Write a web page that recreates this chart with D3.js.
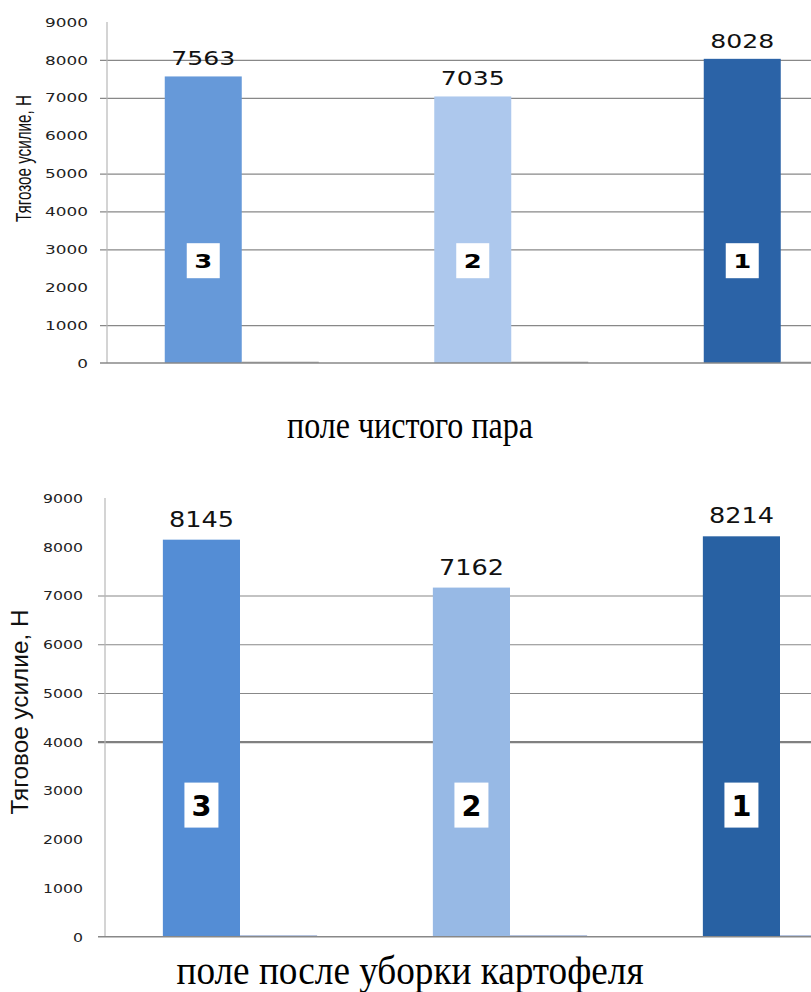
<!DOCTYPE html>
<html><head><meta charset="utf-8">
<script src="https://cdn.jsdelivr.net/npm/d3@7"></script>
<style>body{margin:0;background:#fff} svg{display:block}</style>
</head><body>
<svg id="c" width="811" height="992"></svg>
<script>
// ---- data ----
const categories = ["3", "2", "1"];
const topValues = [7563, 7035, 8028];
const topSecond = [35, 35, 35];
const bottomValues = [8145, 7162, 8214];
const bottomSecond = [27, 27, 27];
const yTicks = [0, 1000, 2000, 3000, 4000, 5000, 6000, 7000, 8000, 9000];
const topGrid = [1000, 3000, 4000, 5000, 7000, 8000];
const bottomGrid = [5000, 6000, 7000];
const bottomStrong = [4000];
const topTitle = "поле чистого пара";
const bottomTitle = "поле после уборки картофеля";
const topYLabel = "Тягозое усилие, Н";
const bottomYLabel = "Тяговое усилие, Н";
const labelLevel = 2700;

const svg = d3.select("#c");
svg.append("rect").attr("width", 811).attr("height", 992).attr("fill", "#fff");

function drawChart(cfg) {
  const g = svg.append("g");
  const x = d3.scaleBand().domain(cfg.categories).range([cfg.x0, cfg.x1])
    .paddingInner(0.4286).paddingOuter(0.2143);
  const xs = d3.scaleBand().domain([0, 1]).range([0, x.bandwidth()]);
  const y = d3.scaleLinear().domain([0, 9000]).range([cfg.yBottom, cfg.yTop]);

  // gridlines (with outer tick marks)
  const grid = d3.axisLeft(y).tickValues(cfg.grid).tickFormat("")
    .tickSizeInner(-(cfg.x1 - cfg.x0)).tickSizeOuter(0);
  const gg = g.append("g").attr("transform", `translate(${cfg.x0},0)`).call(grid);
  gg.select(".domain").remove();
  gg.selectAll(".tick line").attr("x1", -7).attr("stroke", "#888").attr("stroke-width", 1.2);
  if (cfg.strong) {
    const sg = g.append("g").attr("transform", `translate(${cfg.x0},0)`)
      .call(d3.axisLeft(y).tickValues(cfg.strong).tickFormat("").tickSizeInner(-(cfg.x1 - cfg.x0)).tickSizeOuter(0));
    sg.select(".domain").remove();
    sg.selectAll(".tick line").attr("x1", -7).attr("stroke", "#808080").attr("stroke-width", 2.2);
  }

  // tick labels
  const ax = d3.axisLeft(y).tickValues(yTicks).tickFormat(d3.format("d")).tickSize(0).tickPadding(0);
  const ag = g.append("g").attr("transform", `translate(${cfg.tickRight},0)`).call(ax);
  ag.select(".domain").remove();
  ag.selectAll(".tick text")
    .attr("font-family", "DejaVu Sans, Verdana, sans-serif")
    .attr("font-size", cfg.tickFont).attr("fill", "#222")
    .attr("x", 0).attr("dy", "0.36em")
    .attr("textLength", d => cfg.tickLen * String(d).length / 4)
    .attr("lengthAdjust", "spacingAndGlyphs");

  // vertical axis line
  g.append("line").attr("x1", cfg.x0).attr("x2", cfg.x0)
    .attr("y1", y(9000)).attr("y2", y(0)).attr("stroke", "#b8b8b8").attr("stroke-width", 1.2);

  // bars
  const rows = cfg.categories.map((c, i) => ({c, i, v: cfg.values[i], s: cfg.second[i]}));
  g.selectAll(".bar").data(rows).enter().append("rect")
    .attr("x", d => x(d.c) + xs(0)).attr("width", xs.bandwidth())
    .attr("y", d => y(d.v)).attr("height", d => y(0) - y(d.v))
    .attr("fill", d => cfg.colors[d.i]);
  g.selectAll(".bar2").data(rows).enter().append("rect")
    .attr("x", d => x(d.c) + xs(1)).attr("width", xs.bandwidth())
    .attr("y", d => y(d.s)).attr("height", d => y(0) - y(d.s))
    .attr("fill", cfg.secondColor);

  // baseline
  g.append("line").attr("x1", cfg.x0 - 7).attr("x2", 811)
    .attr("y1", y(0)).attr("y2", y(0)).attr("stroke", "#888").attr("stroke-width", 1.4);

  // value labels
  g.selectAll(".vl").data(rows).enter().append("text")
    .attr("x", d => x(d.c) + xs(0) + xs.bandwidth() / 2)
    .attr("y", d => y(d.v) - cfg.valueGap)
    .attr("text-anchor", "middle")
    .attr("font-family", "DejaVu Sans, Verdana, sans-serif")
    .attr("font-size", cfg.valueFont).attr("fill", "#111")
    .attr("textLength", cfg.valueLen).attr("lengthAdjust", "spacingAndGlyphs")
    .text(d => d.v);

  // category labels in white boxes
  const lb = g.selectAll(".lb").data(rows).enter().append("g")
    .attr("transform", d => `translate(${x(d.c) + xs(0) + xs.bandwidth() / 2},${y(labelLevel)})`);
  lb.append("rect").attr("x", -cfg.boxW / 2).attr("y", -cfg.boxH / 2)
    .attr("width", cfg.boxW).attr("height", cfg.boxH).attr("fill", "#fff");
  lb.append("text").attr("text-anchor", "middle").attr("dy", "0.36em")
    .attr("font-family", "DejaVu Sans, Verdana, sans-serif").attr("font-weight", "bold")
    .attr("font-size", cfg.boxFont).attr("fill", "#000")
    .attr("textLength", cfg.boxLen).attr("lengthAdjust", "spacingAndGlyphs")
    .text(d => d.c);

  // y-axis title
  g.append("text")
    .attr("transform", `translate(${cfg.yLabelX},${cfg.yLabelY}) rotate(-90)`)
    .attr("text-anchor", "middle")
    .attr("font-family", "Liberation Sans Narrow, Liberation Sans, Arial, sans-serif")
    .attr("font-size", cfg.yLabelFont).attr("fill", "#111")
    .attr("textLength", cfg.yLabelLen).attr("lengthAdjust", "spacingAndGlyphs")
    .text(cfg.yLabel);

  // x title
  g.append("text").attr("x", cfg.titleX).attr("y", cfg.titleY)
    .attr("text-anchor", "middle")
    .attr("font-family", "Liberation Serif, Times New Roman, serif")
    .attr("font-size", cfg.titleFont).attr("fill", "#000")
    .attr("textLength", cfg.titleLen).attr("lengthAdjust", "spacingAndGlyphs")
    .text(cfg.title);
}

drawChart({
  categories, values: topValues, second: topSecond, grid: topGrid,
  x0: 107, x1: 915.5, yTop: 22, yBottom: 363,
  colors: ["#6699d9", "#adc8ed", "#2b63a7"], secondColor: "#a6a6a6",
  tickRight: 88, tickFont: 11.5, tickLen: 43,
  valueFont: 19, valueLen: 64, valueGap: 11,
  boxW: 33, boxH: 35, boxFont: 19, boxLen: 18,
  yLabel: topYLabel, yLabelX: 31, yLabelY: 158.5, yLabelFont: 22, yLabelLen: 127,
  title: topTitle, titleX: 410, titleY: 438, titleFont: 37, titleLen: 246
});

drawChart({
  categories, values: bottomValues, second: bottomSecond, grid: bottomGrid, strong: bottomStrong,
  x0: 105, x1: 915, yTop: 498, yBottom: 936.7,
  colors: ["#548dd5", "#97b9e5", "#2861a3"], secondColor: "#8aa0cc",
  tickRight: 83, tickFont: 12, tickLen: 40,
  valueFont: 22, valueLen: 65, valueGap: 13,
  boxW: 34, boxH: 45, boxFont: 29, boxLen: 20,
  yLabel: bottomYLabel, yLabelX: 28, yLabelY: 712, yLabelFont: 23, yLabelLen: 205,
  title: bottomTitle, titleX: 410, titleY: 984, titleFont: 39, titleLen: 467
});
</script>
</body></html>
